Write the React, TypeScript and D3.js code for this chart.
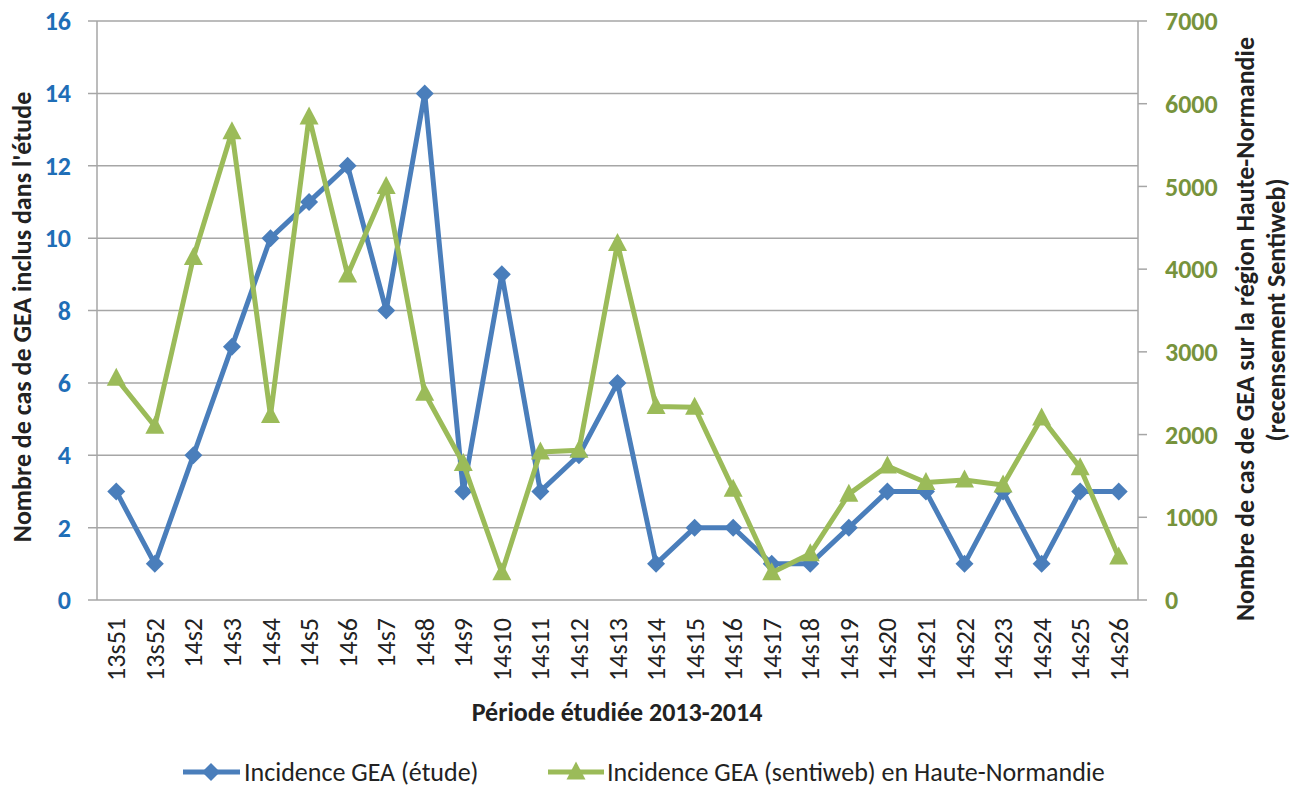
import React from "react";
import * as d3 from "d3";

const categories = ["13s51","13s52","14s2","14s3","14s4","14s5","14s6","14s7","14s8","14s9","14s10","14s11","14s12","14s13","14s14","14s15","14s16","14s17","14s18","14s19","14s20","14s21","14s22","14s23","14s24","14s25","14s26"];
const etude = [3,1,4,7,10,11,12,8,14,3,9,3,4,6,1,2,2,1,1,2,3,3,1,3,1,3,3];
const sentiweb = [2680,2100,4140,5660,2230,5840,3930,5000,2500,1650,330,1790,1810,4310,2340,2330,1340,330,560,1280,1620,1420,1450,1390,2200,1600,520];
const leftTicks = [0,2,4,6,8,10,12,14,16];
const rightTicks = [0,1000,2000,3000,4000,5000,6000,7000];

const W = 1304, H = 790;
const L = 97, R = 1138, T = 21, B = 600;
const BLUE = "#4a7ebb", GREEN = "#9bbb59";
const BLUE_T = "#1f6eb7", GREEN_T = "#77933c";
const FONT = "Carlito, Lato, 'Open Sans', sans-serif";
const FS = 26;

export default function App() {
  const x = d3.scalePoint<string>().domain(categories).range([L, R]).padding(0.5);
  const yL = d3.scaleLinear().domain([0, 16]).range([B, T]);
  const yR = d3.scaleLinear().domain([0, 7000]).range([B, T]);
  const lineL = d3.line<number>().x((_, i) => x(categories[i])!).y(d => yL(d));
  const lineR = d3.line<number>().x((_, i) => x(categories[i])!).y(d => yR(d));
  const diamond = (cx: number, cy: number, s = 9) => `M${cx},${cy - s}L${cx + s},${cy}L${cx},${cy + s}L${cx - s},${cy}Z`;
  const tri = (cx: number, cy: number) => `M${cx},${cy - 10.5}L${cx + 9.5},${cy + 7.5}L${cx - 9.5},${cy + 7.5}Z`;
  const LY = 772;

  return (
    <svg width={W} height={H} style={{ position: "absolute", left: 0, top: 0, background: "#fff" }} fontFamily={FONT}>
      {leftTicks.map(t => (
        <line key={"g" + t} x1={88} x2={R} y1={yL(t)} y2={yL(t)} stroke="#a6a6a6" strokeWidth={1.5} />
      ))}
      <line x1={L} x2={L} y1={T} y2={B} stroke="#a6a6a6" strokeWidth={1.5} />
      <line x1={R} x2={R} y1={T} y2={B} stroke="#a6a6a6" strokeWidth={1.5} />
      {rightTicks.map(t => (
        <line key={"rt" + t} x1={R} x2={R + 9} y1={yR(t)} y2={yR(t)} stroke="#a6a6a6" strokeWidth={1.5} />
      ))}
      {leftTicks.map(t => (
        <text key={"lt" + t} x={71} y={yL(t)} dy="0.35em" textAnchor="end" fontSize={FS} fontWeight="bold" fill={BLUE_T}>{t}</text>
      ))}
      {rightTicks.map(t => (
        <text key={"rl" + t} x={1165} y={yR(t)} dy="0.35em" textAnchor="start" fontSize={FS} fontWeight="bold" fill={GREEN_T}>{t}</text>
      ))}
      {categories.map(c => (
        <text key={c} transform={`translate(${x(c)!},618) rotate(-90)`} dy="0.35em" textAnchor="end" fontSize={FS} fill="#222">{c}</text>
      ))}
      <path d={lineL(etude)!} fill="none" stroke={BLUE} strokeWidth={5} strokeLinejoin="round" />
      {etude.map((v, i) => (
        <path key={"d" + i} d={diamond(x(categories[i])!, yL(v))} fill={BLUE} />
      ))}
      <path d={lineR(sentiweb)!} fill="none" stroke={GREEN} strokeWidth={5} strokeLinejoin="round" />
      {sentiweb.map((v, i) => (
        <path key={"t" + i} d={tri(x(categories[i])!, yR(v))} fill={GREEN} />
      ))}
      <text x={617} y={712} dy="0.35em" textAnchor="middle" fontSize={FS} fontWeight="bold" fill="#222">Période étudiée 2013-2014</text>
      <text transform={`translate(22,317) rotate(-90)`} dy="0.35em" textAnchor="middle" fontSize={FS} fontWeight="bold" fill="#222">Nombre de cas de GEA inclus dans l'étude</text>
      <text transform={`translate(1245,329) rotate(-90)`} dy="0.35em" textAnchor="middle" fontSize={FS} fontWeight="bold" fill="#222">Nombre de cas de GEA sur la région Haute-Normandie</text>
      <text transform={`translate(1276,310) rotate(-90)`} dy="0.35em" textAnchor="middle" fontSize={FS} fontWeight="bold" fill="#222">(recensement Sentiweb)</text>
      <line x1={183} x2={240} y1={LY} y2={LY} stroke={BLUE} strokeWidth={5} />
      <path d={diamond(211, LY)} fill={BLUE} />
      <text x={244} y={LY} dy="0.35em" fontSize={FS} fill="#222">Incidence GEA (étude)</text>
      <line x1={548} x2={604} y1={LY} y2={LY} stroke={GREEN} strokeWidth={5} />
      <path d={tri(576, LY)} fill={GREEN} />
      <text x={607} y={LY} dy="0.35em" fontSize={FS} fill="#222">Incidence GEA (sentiweb) en Haute-Normandie</text>
    </svg>
  );
}
